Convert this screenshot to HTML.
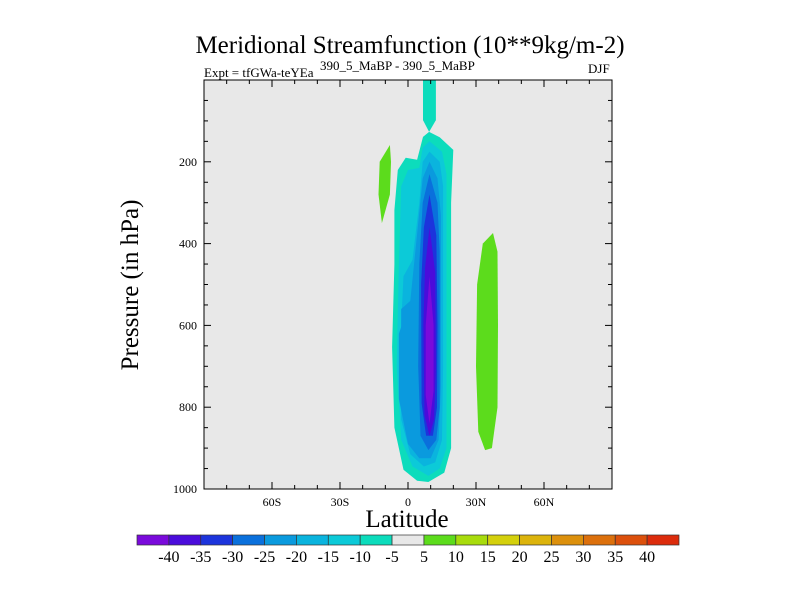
<!DOCTYPE html>
<html><head><meta charset="utf-8"><style>
body{margin:0;background:#fff;}
svg text{font-family:"Liberation Serif",serif;fill:#000;}
</style></head><body>
<svg id="c" width="800" height="600" xmlns="http://www.w3.org/2000/svg">
<text x="410" y="53" font-size="25" text-anchor="middle">Meridional Streamfunction (10**9kg/m-2)</text>
<text x="204" y="77" font-size="13">Expt = tfGWa-teYEa</text>
<text x="320" y="70" font-size="13">390_5_MaBP - 390_5_MaBP</text>
<text x="588" y="73" font-size="13">DJF</text>
<text x="0" y="0" font-size="25" text-anchor="middle" transform="translate(138,285) rotate(-90)">Pressure (in hPa)</text>
<text x="407" y="527" font-size="25" text-anchor="middle">Latitude</text>
<g id="plot"></g>
<g id="cbar"></g>
</svg>
<script>
const levels=[-45,-40,-35,-30,-25,-20,-15,-10,-5,5,10,15,20,25,30,35,40];
const cbLabels=["-40","-35","-30","-25","-20","-15","-10","-5","5","10","15","20","25","30","35","40"];
const colors=["#7a0adb","#4a0cdb","#1c34dc","#0a70dc","#0a9ade","#0ab4de","#0ccad8","#0cdcbc","#e8e8e8","#5cdc1c","#a8dc0c","#d4d00c","#dcb40c","#dc900c","#dc700c","#dc500c","#dc2c0c"];
const yTicks=[200,400,600,800,1000];
const xTicks=[-60,-30,0,30,60];
const xTickLabels=["60S","30S","0","30N","60N"];
// contour regions: [level value, [[lat,p],...]]
const regionLevels=[-5,-5,-10,-15,-20,-20,-25,-30,-35,-40,5,5];
const regionShapes=[
 [[6.6,0],[12.3,0],[12.3,98],[9.3,127],[6.6,98]],
 [[9.3,127],[14,140],[20,171],[19,300],[19,700],[19,900],[16,960],[9,983],[4,980],[-2,953],[-6,850],[-7,653],[-6,450],[-6,318],[-4.5,220],[-1,190],[4,195],[6.6,139]],
 [[9.5,150],[15,175],[17,230],[17,600],[17,900],[14,950],[9,968],[2,945],[-3,880],[-5,700],[-4,450],[-3,260],[0,220],[5,215],[6.5,165]],
 [[9.5,175],[14,200],[15.5,260],[15.5,700],[15,880],[12,935],[7,945],[1,915],[-3,830],[-3.5,650],[-2,480],[2,440],[5,300],[6.5,200]],
 [[9.5,200],[13,240],[14.5,330],[14.5,750],[13.5,880],[10,925],[5,925],[0,890],[-4,780],[-4,620],[1,540],[4.5,350],[6.5,240]],
 [[-3,560],[1,540],[4,600],[4,800],[1,860],[-3,760]],
 [[9.5,230],[13,300],[14,420],[14,800],[12.5,880],[9,905],[5.5,870],[4.5,700],[5,450],[6.5,300]],
 [[9.5,280],[12.5,380],[13,600],[12.8,800],[11,870],[8,870],[6,790],[5.8,500],[7,360]],
 [[9.5,360],[12,470],[12.3,700],[11.5,830],[9.5,870],[7.3,820],[6.8,600],[7.5,460]],
 [[9.5,480],[11.3,600],[11.3,760],[9.5,840],[7.8,770],[7.8,600]],
 [[-8,159],[-7.5,200],[-8,280],[-11.5,350],[-13,280],[-12.5,200]],
 [[37.5,374],[39.5,420],[39.7,600],[39.5,800],[37,900],[34,905],[31,860],[30,700],[30.5,500],[33,400]]
];
const L=204,R=612,T=80,B=489;
const xs=lat=>L+(lat+90)/180*(R-L);
const ys=p=>T+p/1000*(B-T);
const NS="http://www.w3.org/2000/svg";
function mk(tag,attrs,parent){const e=document.createElementNS(NS,tag);for(const k in attrs)e.setAttribute(k,attrs[k]);parent.appendChild(e);return e;}
function colorFor(v){const k=levels.indexOf(v);return v<0?colors[k-1]:colors[k];}
const plot=document.getElementById('plot');
const bg=mk('rect',{x:L,y:T,width:R-L,height:B-T,fill:"#e8e8e8"},plot);


regionShapes.forEach((pts,i)=>{
 const poly=mk('polygon',{points:pts.map(q=>xs(q[0]).toFixed(1)+","+ys(q[1]).toFixed(1)).join(" "),fill:colorFor(regionLevels[i])},plot);
 
 
});
const frame=mk('rect',{x:L,y:T,width:R-L,height:B-T,fill:"none",stroke:"#000","stroke-width":1},plot);


for(let p=50;p<1000;p+=50){const maj=p%200===0;const len=maj?7:4;
 mk('line',{x1:L,y1:ys(p),x2:L+len,y2:ys(p),stroke:"#000"},plot);
 mk('line',{x1:R,y1:ys(p),x2:R-len,y2:ys(p),stroke:"#000"},plot);}
for(let lat=-80;lat<=80;lat+=10){const maj=lat%30===0;const len=maj?7:4;
 mk('line',{x1:xs(lat),y1:B,x2:xs(lat),y2:B-len,stroke:"#000"},plot);
 mk('line',{x1:xs(lat),y1:T,x2:xs(lat),y2:T+len,stroke:"#000"},plot);}
yTicks.forEach(v=>{const t=mk('text',{x:L-7,y:ys(v)+4,"font-size":12,"text-anchor":"end"},plot);t.textContent=v;
 
 });
xTicks.forEach((v,i)=>{const t=mk('text',{x:xs(v),y:B+17,"font-size":12,"text-anchor":"middle"},plot);t.textContent=xTickLabels[i];
 
 });
const cb=document.getElementById('cbar');const cx0=137,cx1=679,cy=535,ch=10,w=(cx1-cx0)/colors.length;
colors.forEach((c,i)=>{const r=mk('rect',{x:cx0+i*w,y:cy,width:w,height:ch,fill:c,stroke:"#333","stroke-width":0.7},cb);
 
 });
cbLabels.forEach((s,i)=>{const t=mk('text',{x:cx0+(i+1)*w,y:cy+27,"font-size":16,"text-anchor":"middle"},cb);t.textContent=s;
 
 });
</script>
</body></html>
